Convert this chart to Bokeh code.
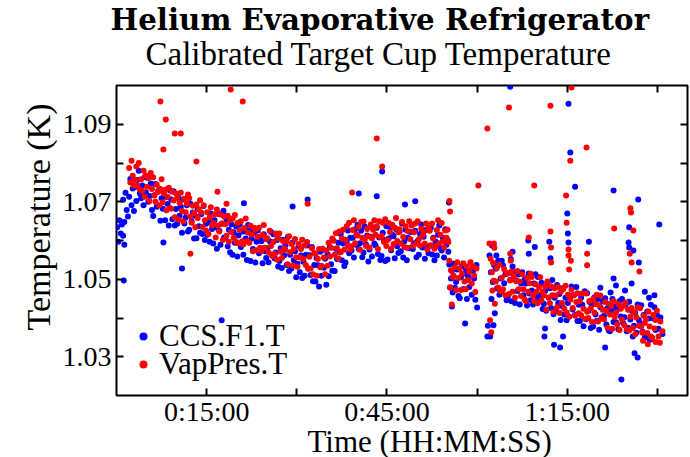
from bokeh.plotting import figure
from bokeh.models import FixedTicker, Title, Legend, LegendItem, LinearAxis, Range1d, ColumnDataSource
from bokeh.embed import file_html
from bokeh.resources import INLINE

title_text = "Helium Evaporative Refrigerator"
subtitle_text = "Calibrated Target Cup Temperature"
x_label = "Time (HH:MM:SS)"
y_label = "Temperature (K)"
series_names = ["CCS.F1.T", "VapPres.T"]
x_tick_minutes = [15, 45, 75]
x_tick_labels = ["0:15:00", "0:45:00", "1:15:00"]
x_minor_minutes = [30, 60, 90]
y_ticks = [1.03, 1.05, 1.07, 1.09]
y_tick_labels = ["1.03", "1.05", "1.07", "1.09"]
y_minor = [1.04, 1.06, 1.08]

# CCS.F1.T readings, grouped by minute (minute, readings spread evenly over it)
blue_rows = [
    (0, [1.0634, 1.0597, 1.0652, 1.0618, 1.0641]),
    (1, [1.0705, 1.0648, 1.0723, 1.0679, 1.0662]),
    (2, [1.0713, 1.0759, 1.0691, 1.0734, 1.0676]),
    (3, [1.0738, 1.0702, 1.0756, 1.0780, 1.0721]),
    (4, [1.0709, 1.0742, 1.0691, 1.0764, 1.0724]),
    (5, [1.0762, 1.0700, 1.0715, 1.0747, 1.0679]),
    (6, [1.0663, 1.0717, 1.0746, 1.0687, 1.0727]),
    (7, [1.0730, 1.0651, 1.0709, 1.0682, 1.0724]),
    (8, [1.0652, 1.0712, 1.0694, 1.0639, 1.0729]),
    (9, [1.0706, 1.0655, 1.0727, 1.0639, 1.0681]),
    (10, [1.0643, 1.0710, 1.0664, 1.0687, 1.0620]),
    (11, [1.0706, 1.0644, 1.0659, 1.0691, 1.0623]),
    (12, [1.0628, 1.0695, 1.0649, 1.0672, 1.0605]),
    (13, [1.0663, 1.0606, 1.0681, 1.0637, 1.0620]),
    (14, [1.0668, 1.0617, 1.0689, 1.0601, 1.0643]),
    (15, [1.0615, 1.0648, 1.0597, 1.0670, 1.0630]),
    (16, [1.0592, 1.0652, 1.0634, 1.0579, 1.0669]),
    (17, [1.0625, 1.0589, 1.0643, 1.0667, 1.0608]),
    (18, [1.0607, 1.0653, 1.0585, 1.0628, 1.0570]),
    (19, [1.0642, 1.0563, 1.0621, 1.0594, 1.0636]),
    (20, [1.0559, 1.0613, 1.0642, 1.0583, 1.0623]),
    (21, [1.0563, 1.0623, 1.0605, 1.0550, 1.0640]),
    (22, [1.0626, 1.0547, 1.0605, 1.0578, 1.0620]),
    (23, [1.0543, 1.0597, 1.0626, 1.0567, 1.0607]),
    (24, [1.0598, 1.0541, 1.0616, 1.0572, 1.0555]),
    (25, [1.0580, 1.0544, 1.0598, 1.0622, 1.0563]),
    (26, [1.0616, 1.0554, 1.0569, 1.0601, 1.0533]),
    (27, [1.0547, 1.0580, 1.0529, 1.0602, 1.0562]),
    (28, [1.0588, 1.0537, 1.0609, 1.0521, 1.0563]),
    (29, [1.0528, 1.0595, 1.0549, 1.0572, 1.0505]),
    (30, [1.0540, 1.0586, 1.0518, 1.0561, 1.0503]),
    (31, [1.0545, 1.0509, 1.0563, 1.0587, 1.0528]),
    (32, [1.0562, 1.0511, 1.0583, 1.0495, 1.0537]),
    (33, [1.0494, 1.0554, 1.0536, 1.0481, 1.0571]),
    (34, [1.0509, 1.0576, 1.0530, 1.0553, 1.0486]),
    (35, [1.0565, 1.0508, 1.0583, 1.0539, 1.0522]),
    (36, [1.0600, 1.0521, 1.0579, 1.0552, 1.0594]),
    (37, [1.0571, 1.0617, 1.0549, 1.0592, 1.0534]),
    (38, [1.0543, 1.0597, 1.0626, 1.0567, 1.0607]),
    (39, [1.0574, 1.0607, 1.0556, 1.0629, 1.0589]),
    (40, [1.0640, 1.0578, 1.0593, 1.0625, 1.0557]),
    (41, [1.0569, 1.0636, 1.0590, 1.0613, 1.0546]),
    (42, [1.0577, 1.0610, 1.0559, 1.0632, 1.0592]),
    (43, [1.0587, 1.0633, 1.0565, 1.0608, 1.0550]),
    (44, [1.0560, 1.0620, 1.0602, 1.0547, 1.0637]),
    (45, [1.0551, 1.0605, 1.0634, 1.0575, 1.0615]),
    (46, [1.0611, 1.0554, 1.0629, 1.0585, 1.0568]),
    (47, [1.0623, 1.0572, 1.0644, 1.0556, 1.0598]),
    (48, [1.0628, 1.0549, 1.0607, 1.0580, 1.0622]),
    (49, [1.0640, 1.0578, 1.0593, 1.0625, 1.0557]),
    (50, [1.0599, 1.0563, 1.0617, 1.0641, 1.0582]),
    (51, [1.0610, 1.0553, 1.0628, 1.0584, 1.0567]),
    (52, [1.0586, 1.0632, 1.0564, 1.0607, 1.0549]),
    (53, [1.0597, 1.0561, 1.0615, 1.0639, 1.0580]),
    (54, [1.0574, 1.0607, 1.0556, 1.0629, 1.0589]),
    (55, [1.0602, 1.0571, 1.0538, 1.0479, 1.0502, 1.0521, 1.0466]),
    (56, [1.0540, 1.0478, 1.0493, 1.0525, 1.0457]),
    (57, [1.0451, 1.0505, 1.0534, 1.0475, 1.0515]),
    (58, [1.0528, 1.0449, 1.0507, 1.0480, 1.0522]),
    (59, [1.0460, 1.0520, 1.0502, 1.0447, 1.0537]),
    (62, [1.0561, 1.0352, 1.0518, 1.0449, 1.0587, 1.0493, 1.0381, 1.0536, 1.0412]),
    (63, [1.0527, 1.0476, 1.0548, 1.0460, 1.0502]),
    (64, [1.0469, 1.0536, 1.0490, 1.0513, 1.0446]),
    (65, [1.0456, 1.0516, 1.0498, 1.0443, 1.0533]),
    (66, [1.0518, 1.0439, 1.0497, 1.0470, 1.0512]),
    (67, [1.0435, 1.0489, 1.0518, 1.0459, 1.0499]),
    (68, [1.0489, 1.0432, 1.0507, 1.0463, 1.0446]),
    (69, [1.0471, 1.0435, 1.0489, 1.0513, 1.0454]),
    (70, [1.0506, 1.0444, 1.0459, 1.0491, 1.0423]),
    (71, [1.0437, 1.0470, 1.0419, 1.0492, 1.0452]),
    (72, [1.0477, 1.0426, 1.0498, 1.0410, 1.0452]),
    (73, [1.0418, 1.0485, 1.0439, 1.0462, 1.0395]),
    (74, [1.0431, 1.0477, 1.0409, 1.0452, 1.0394]),
    (75, [1.0439, 1.0403, 1.0457, 1.0481, 1.0422]),
    (76, [1.0459, 1.0408, 1.0480, 1.0392, 1.0434]),
    (77, [1.0392, 1.0452, 1.0434, 1.0379, 1.0469]),
    (78, [1.0397, 1.0464, 1.0418, 1.0441, 1.0374]),
    (79, [1.0435, 1.0378, 1.0453, 1.0409, 1.0392]),
    (80, [1.0449, 1.0370, 1.0428, 1.0401, 1.0443]),
    (81, [1.0405, 1.0451, 1.0383, 1.0426, 1.0368]),
    (82, [1.0366, 1.0420, 1.0449, 1.0390, 1.0430]),
    (83, [1.0389, 1.0422, 1.0371, 1.0444, 1.0404]),
    (84, [1.0449, 1.0387, 1.0402, 1.0434, 1.0366]),
    (85, [1.0375, 1.0442, 1.0396, 1.0419, 1.0352]),
    (86, [1.0380, 1.0413, 1.0362, 1.0435, 1.0395]),
    (87, [1.0387, 1.0433, 1.0365, 1.0408, 1.0350]),
    (88, [1.0357, 1.0417, 1.0399, 1.0344, 1.0434]),
    (89, [1.0345, 1.0399, 1.0428, 1.0369, 1.0409]),
    (90, [1.0372, 1.0401, 1.0359]),
]
blue_extra_t = [1.2, 1.1, 1.3, 10.9, 17.5, 7.8, 17.8, 21.2, 29.3, 31.8, 40.3, 43.3, 44.2, 48.0,
                49.7, 55.3, 55.8, 58.0, 60.0, 61.8, 61.7, 62.7, 65.5, 75.2, 75.5, 76.3, 75.0, 75.1,
                75.2, 82.7, 86.8, 85.3, 86.0, 85.2, 85.3, 86.9, 84.0, 90.3, 68.5, 68.6, 68.6, 71.2,
                72.8, 73.8, 74.3, 71.3, 81.3, 86.2, 86.7, 80.5, 83.1, 84.6, 87.9, 88.6, 89.5, 85.7,
                82.2, 72.0, 72.2, 78.6, 82.7, 65.6, 65.9, 69.6, 63.2, 64.1]
blue_extra_T = [1.0497, 1.0612, 1.0589, 1.0528, 1.0394, 1.0595, 1.0677, 1.0696, 1.0688, 1.0706,
                1.0721, 1.0714, 1.0778, 1.0693, 1.0701, 1.0698, 1.0430, 1.0386, 1.0427, 1.0380,
                1.0352, 1.0590, 1.0997, 1.0953, 1.0827, 1.0739, 1.0670, 1.0618, 1.0595, 1.0729,
                1.0706, 1.0634, 1.0574, 1.0595, 1.0582, 1.0543, 1.0241, 1.0641, 1.0600, 1.0566,
                1.0515, 1.0352, 1.0331, 1.0324, 1.0352, 1.0373, 1.0324, 1.0309, 1.0298, 1.0478,
                1.0484, 1.0471, 1.0468, 1.0452, 1.0459, 1.0489, 1.0466, 1.0597, 1.0554, 1.0597,
                1.0502, 1.0552, 1.0571, 1.0583, 1.0561, 1.0548]

# VapPres.T readings, grouped by minute
red_rows = [
    (2, [1.0787, 1.0750, 1.0806, 1.0767, 1.0741]),
    (3, [1.0756, 1.0791, 1.0741, 1.0800, 1.0731]),
    (4, [1.0758, 1.0728, 1.0780, 1.0713, 1.0768]),
    (5, [1.0739, 1.0761, 1.0702, 1.0774, 1.0733]),
    (6, [1.0763, 1.0716, 1.0700, 1.0744, 1.0725]),
    (7, [1.0691, 1.0733, 1.0758, 1.0699, 1.0721]),
    (8, [1.0731, 1.0678, 1.0713, 1.0736, 1.0684]),
    (9, [1.0682, 1.0726, 1.0703, 1.0660, 1.0721]),
    (10, [1.0710, 1.0654, 1.0697, 1.0723, 1.0676]),
    (11, [1.0649, 1.0708, 1.0673, 1.0695, 1.0719]),
    (12, [1.0709, 1.0662, 1.0646, 1.0690, 1.0671]),
    (13, [1.0634, 1.0693, 1.0658, 1.0680, 1.0704]),
    (14, [1.0672, 1.0635, 1.0691, 1.0652, 1.0626]),
    (15, [1.0673, 1.0617, 1.0660, 1.0686, 1.0639]),
    (16, [1.0645, 1.0667, 1.0608, 1.0680, 1.0639]),
    (17, [1.0623, 1.0667, 1.0644, 1.0601, 1.0662]),
    (18, [1.0642, 1.0612, 1.0664, 1.0597, 1.0652]),
    (19, [1.0622, 1.0657, 1.0607, 1.0666, 1.0597]),
    (20, [1.0645, 1.0592, 1.0627, 1.0650, 1.0598]),
    (21, [1.0590, 1.0632, 1.0657, 1.0598, 1.0620]),
    (22, [1.0594, 1.0638, 1.0615, 1.0572, 1.0633]),
    (23, [1.0628, 1.0575, 1.0610, 1.0633, 1.0581]),
    (24, [1.0573, 1.0615, 1.0640, 1.0581, 1.0603]),
    (25, [1.0606, 1.0569, 1.0625, 1.0586, 1.0560]),
    (26, [1.0596, 1.0566, 1.0618, 1.0551, 1.0606]),
    (27, [1.0618, 1.0571, 1.0555, 1.0599, 1.0580]),
    (28, [1.0576, 1.0598, 1.0539, 1.0611, 1.0570]),
    (29, [1.0591, 1.0535, 1.0578, 1.0604, 1.0557]),
    (30, [1.0532, 1.0591, 1.0556, 1.0578, 1.0602]),
    (31, [1.0552, 1.0587, 1.0537, 1.0596, 1.0527]),
    (32, [1.0558, 1.0528, 1.0580, 1.0513, 1.0568]),
    (33, [1.0565, 1.0509, 1.0552, 1.0578, 1.0531]),
    (34, [1.0535, 1.0579, 1.0556, 1.0513, 1.0574]),
    (35, [1.0535, 1.0594, 1.0559, 1.0581, 1.0605]),
    (36, [1.0600, 1.0563, 1.0619, 1.0580, 1.0554]),
    (37, [1.0623, 1.0570, 1.0605, 1.0628, 1.0576]),
    (38, [1.0602, 1.0637, 1.0587, 1.0646, 1.0577]),
    (39, [1.0585, 1.0627, 1.0652, 1.0593, 1.0615]),
    (40, [1.0613, 1.0635, 1.0576, 1.0648, 1.0607]),
    (41, [1.0649, 1.0602, 1.0586, 1.0630, 1.0611]),
    (42, [1.0582, 1.0641, 1.0606, 1.0628, 1.0652]),
    (43, [1.0615, 1.0637, 1.0578, 1.0650, 1.0609]),
    (44, [1.0611, 1.0646, 1.0596, 1.0655, 1.0586]),
    (45, [1.0601, 1.0645, 1.0622, 1.0579, 1.0640]),
    (46, [1.0591, 1.0633, 1.0658, 1.0599, 1.0621]),
    (47, [1.0629, 1.0592, 1.0648, 1.0609, 1.0583]),
    (48, [1.0637, 1.0581, 1.0624, 1.0650, 1.0603]),
    (49, [1.0639, 1.0586, 1.0621, 1.0644, 1.0592]),
    (50, [1.0650, 1.0603, 1.0587, 1.0631, 1.0612]),
    (51, [1.0622, 1.0592, 1.0644, 1.0577, 1.0632]),
    (52, [1.0625, 1.0588, 1.0644, 1.0605, 1.0579]),
    (53, [1.0585, 1.0627, 1.0652, 1.0593, 1.0615]),
    (54, [1.0645, 1.0598, 1.0582, 1.0626, 1.0607]),
    (55, [1.0628, 1.0596, 1.0548, 1.0479, 1.0523, 1.0435, 1.0506]),
    (56, [1.0509, 1.0531, 1.0472, 1.0544, 1.0503]),
    (57, [1.0528, 1.0472, 1.0515, 1.0541, 1.0494]),
    (58, [1.0474, 1.0533, 1.0498, 1.0520, 1.0544]),
    (59, [1.0489, 1.0533, 1.0510, 1.0467, 1.0528]),
    (62, [1.0592, 1.0394, 1.0553, 1.0363, 1.0518, 1.0471, 1.0542, 1.0496, 1.0581, 1.0437]),
    (63, [1.0494, 1.0529, 1.0479, 1.0538, 1.0469]),
    (64, [1.0504, 1.0474, 1.0526, 1.0459, 1.0514]),
    (65, [1.0515, 1.0462, 1.0497, 1.0520, 1.0468]),
    (66, [1.0508, 1.0452, 1.0495, 1.0521, 1.0474]),
    (67, [1.0494, 1.0457, 1.0513, 1.0474, 1.0448]),
    (68, [1.0444, 1.0503, 1.0468, 1.0490, 1.0514]),
    (69, [1.0506, 1.0459, 1.0443, 1.0487, 1.0468]),
    (70, [1.0438, 1.0480, 1.0505, 1.0446, 1.0468]),
    (71, [1.0459, 1.0481, 1.0422, 1.0494, 1.0453]),
    (72, [1.0438, 1.0482, 1.0459, 1.0416, 1.0477]),
    (73, [1.0458, 1.0428, 1.0480, 1.0413, 1.0468]),
    (74, [1.0439, 1.0474, 1.0424, 1.0483, 1.0414]),
    (75, [1.0460, 1.0404, 1.0447, 1.0473, 1.0426]),
    (76, [1.0459, 1.0406, 1.0441, 1.0464, 1.0412]),
    (77, [1.0444, 1.0407, 1.0463, 1.0424, 1.0398]),
    (78, [1.0463, 1.0416, 1.0400, 1.0444, 1.0425]),
    (79, [1.0390, 1.0449, 1.0414, 1.0436, 1.0460]),
    (80, [1.0391, 1.0433, 1.0458, 1.0399, 1.0421]),
    (81, [1.0397, 1.0441, 1.0418, 1.0375, 1.0436]),
    (82, [1.0409, 1.0431, 1.0372, 1.0444, 1.0403]),
    (83, [1.0414, 1.0384, 1.0436, 1.0369, 1.0424]),
    (84, [1.0396, 1.0431, 1.0381, 1.0440, 1.0371]),
    (85, [1.0421, 1.0368, 1.0403, 1.0426, 1.0374]),
    (86, [1.0414, 1.0358, 1.0401, 1.0427, 1.0380]),
    (87, [1.0425, 1.0378, 1.0362, 1.0406, 1.0387]),
    (88, [1.0398, 1.0361, 1.0417, 1.0378, 1.0352]),
    (89, [1.0349, 1.0408, 1.0373, 1.0395, 1.0419]),
    (90, [1.0352, 1.0391, 1.0366]),
]
red_extra_t = [7.3, 8.2, 7.8, 9.7, 10.7, 13.3, 19.0, 21.0, 16.8, 18.3, 12.3, 31.8, 39.2, 43.3,
               44.2, 55.5, 55.4, 60.2, 61.7, 65.3, 72.2, 75.7, 75.5, 78.2, 69.5, 68.7, 68.6, 74.8,
               74.9, 82.8, 85.5, 85.6, 85.4, 85.7, 86.0, 87.0, 65.5, 65.6, 72.2, 72.3, 72.3, 75.2,
               75.2, 75.3, 75.6, 78.3, 78.3, 62.8, 88.4, 89.7, 87.6, 90.4]
red_extra_T = [1.0959, 1.0912, 1.0835, 1.0876, 1.0876, 1.0804, 1.0990, 1.0959, 1.0726, 1.0695,
               1.0566, 1.0695, 1.0724, 1.0863, 1.0791, 1.0675, 1.0702, 1.0742, 1.0889, 1.0943,
               1.0948, 1.0995, 1.0806, 1.0840, 1.0742, 1.0662, 1.0608, 1.0716, 1.0646, 1.0631,
               1.0683, 1.0672, 1.0566, 1.0543, 1.0626, 1.0520, 1.0566, 1.0548, 1.0623, 1.0582,
               1.0543, 1.0577, 1.0561, 1.0525, 1.0548, 1.0566, 1.0536, 1.0592, 1.0332, 1.0338,
               1.0341, 1.0336]


def expand(rows, extra_t, extra_T):
    ts, Ts = [], []
    for minute, vals in rows:
        n = len(vals)
        for k, v in enumerate(vals):
            ts.append(minute + (k + 0.5) / n)
            Ts.append(v)
    return ts + list(extra_t), Ts + list(extra_T)


bt, bT = expand(blue_rows, blue_extra_t, blue_extra_T)
rt, rT = expand(red_rows, red_extra_t, red_extra_T)

SERIF = "Liberation Serif"

p = figure(width=690, height=457, output_backend="svg", toolbar_location=None,
           x_range=Range1d(0, 95), y_range=Range1d(1.02, 1.10), title=None,
           min_border_left=116, min_border_right=3, min_border_top=85, min_border_bottom=62)
p.background_fill_color = "white"
p.border_fill_color = "white"
p.outline_line_color = "black"
p.outline_line_width = 2
p.xgrid.visible = False
p.ygrid.visible = False


def style_axis(ax, ticker, standoff):
    ax.ticker = ticker
    ax.axis_line_color = None
    ax.major_tick_in = 7
    ax.major_tick_out = 0
    ax.minor_tick_in = 7
    ax.minor_tick_out = 0
    ax.major_tick_line_width = 2
    ax.minor_tick_line_width = 2
    ax.major_tick_line_color = "black"
    ax.minor_tick_line_color = "black"
    ax.major_label_text_font = SERIF
    ax.major_label_text_color = "black"
    ax.major_label_text_font_size = "28px"
    ax.major_label_standoff = standoff


style_axis(p.xaxis[0], FixedTicker(ticks=x_tick_minutes, minor_ticks=x_minor_minutes), 0)
p.xaxis[0].major_label_overrides = {m: l for m, l in zip(x_tick_minutes, x_tick_labels)}
style_axis(p.yaxis[0], FixedTicker(ticks=y_ticks, minor_ticks=y_minor), 5)
p.yaxis[0].major_label_overrides = {v: l for v, l in zip(y_ticks, y_tick_labels)}

# mirrored tick marks on top and right (no labels)
top_ax = LinearAxis()
style_axis(top_ax, FixedTicker(ticks=[], minor_ticks=sorted(x_tick_minutes + x_minor_minutes)), 0)
right_ax = LinearAxis()
style_axis(right_ax, FixedTicker(ticks=[], minor_ticks=sorted(y_ticks + y_minor)), 0)
p.add_layout(top_ax, "above")
p.add_layout(right_ax, "right")

sub = Title(text=subtitle_text, align="left", offset=29, text_font=SERIF,
            text_font_size="33px", text_font_style="normal", text_color="black", standoff=27)
main = Title(text=title_text, align="left", offset=-6, text_font="DejaVu Serif",
             text_font_size="29.3px", text_font_style="bold", text_color="black", standoff=-32)
p.add_layout(sub, "above")
p.add_layout(main, "above")

xl = Title(text=x_label, align="left", offset=191, text_font=SERIF, text_font_size="31px",
           text_font_style="normal", text_color="black", standoff=-16)
p.add_layout(xl, "below")
yl = Title(text=y_label, align="left", offset=65, text_font=SERIF, text_font_size="34px",
           text_font_style="normal", text_color="black", standoff=6)
p.add_layout(yl, "left")

src_b = ColumnDataSource(dict(t=bt, T=bT))
src_r = ColumnDataSource(dict(t=rt, T=rT))
rb = p.scatter("t", "T", source=src_b, size=6, fill_color="#0000ff", line_color=None)
rr = p.scatter("t", "T", source=src_r, size=6, fill_color="#ff0000", line_color=None)

legend_style = dict(padding=0, margin=0, spacing=0, background_fill_alpha=0, border_line_alpha=0,
                    label_text_font=SERIF, label_text_font_size="31px", label_text_color="black",
                    label_standoff=6, glyph_width=20, glyph_height=20)
legend_b = Legend(items=[LegendItem(label=series_names[0], renderers=[rb])],
                  location=(17, 41), **legend_style)
legend_r = Legend(items=[LegendItem(label=series_names[1], renderers=[rr])],
                  location=(17, 13), **legend_style)
p.add_layout(legend_b)
p.add_layout(legend_r)

open("out.html", "w").write(file_html(p, INLINE))
